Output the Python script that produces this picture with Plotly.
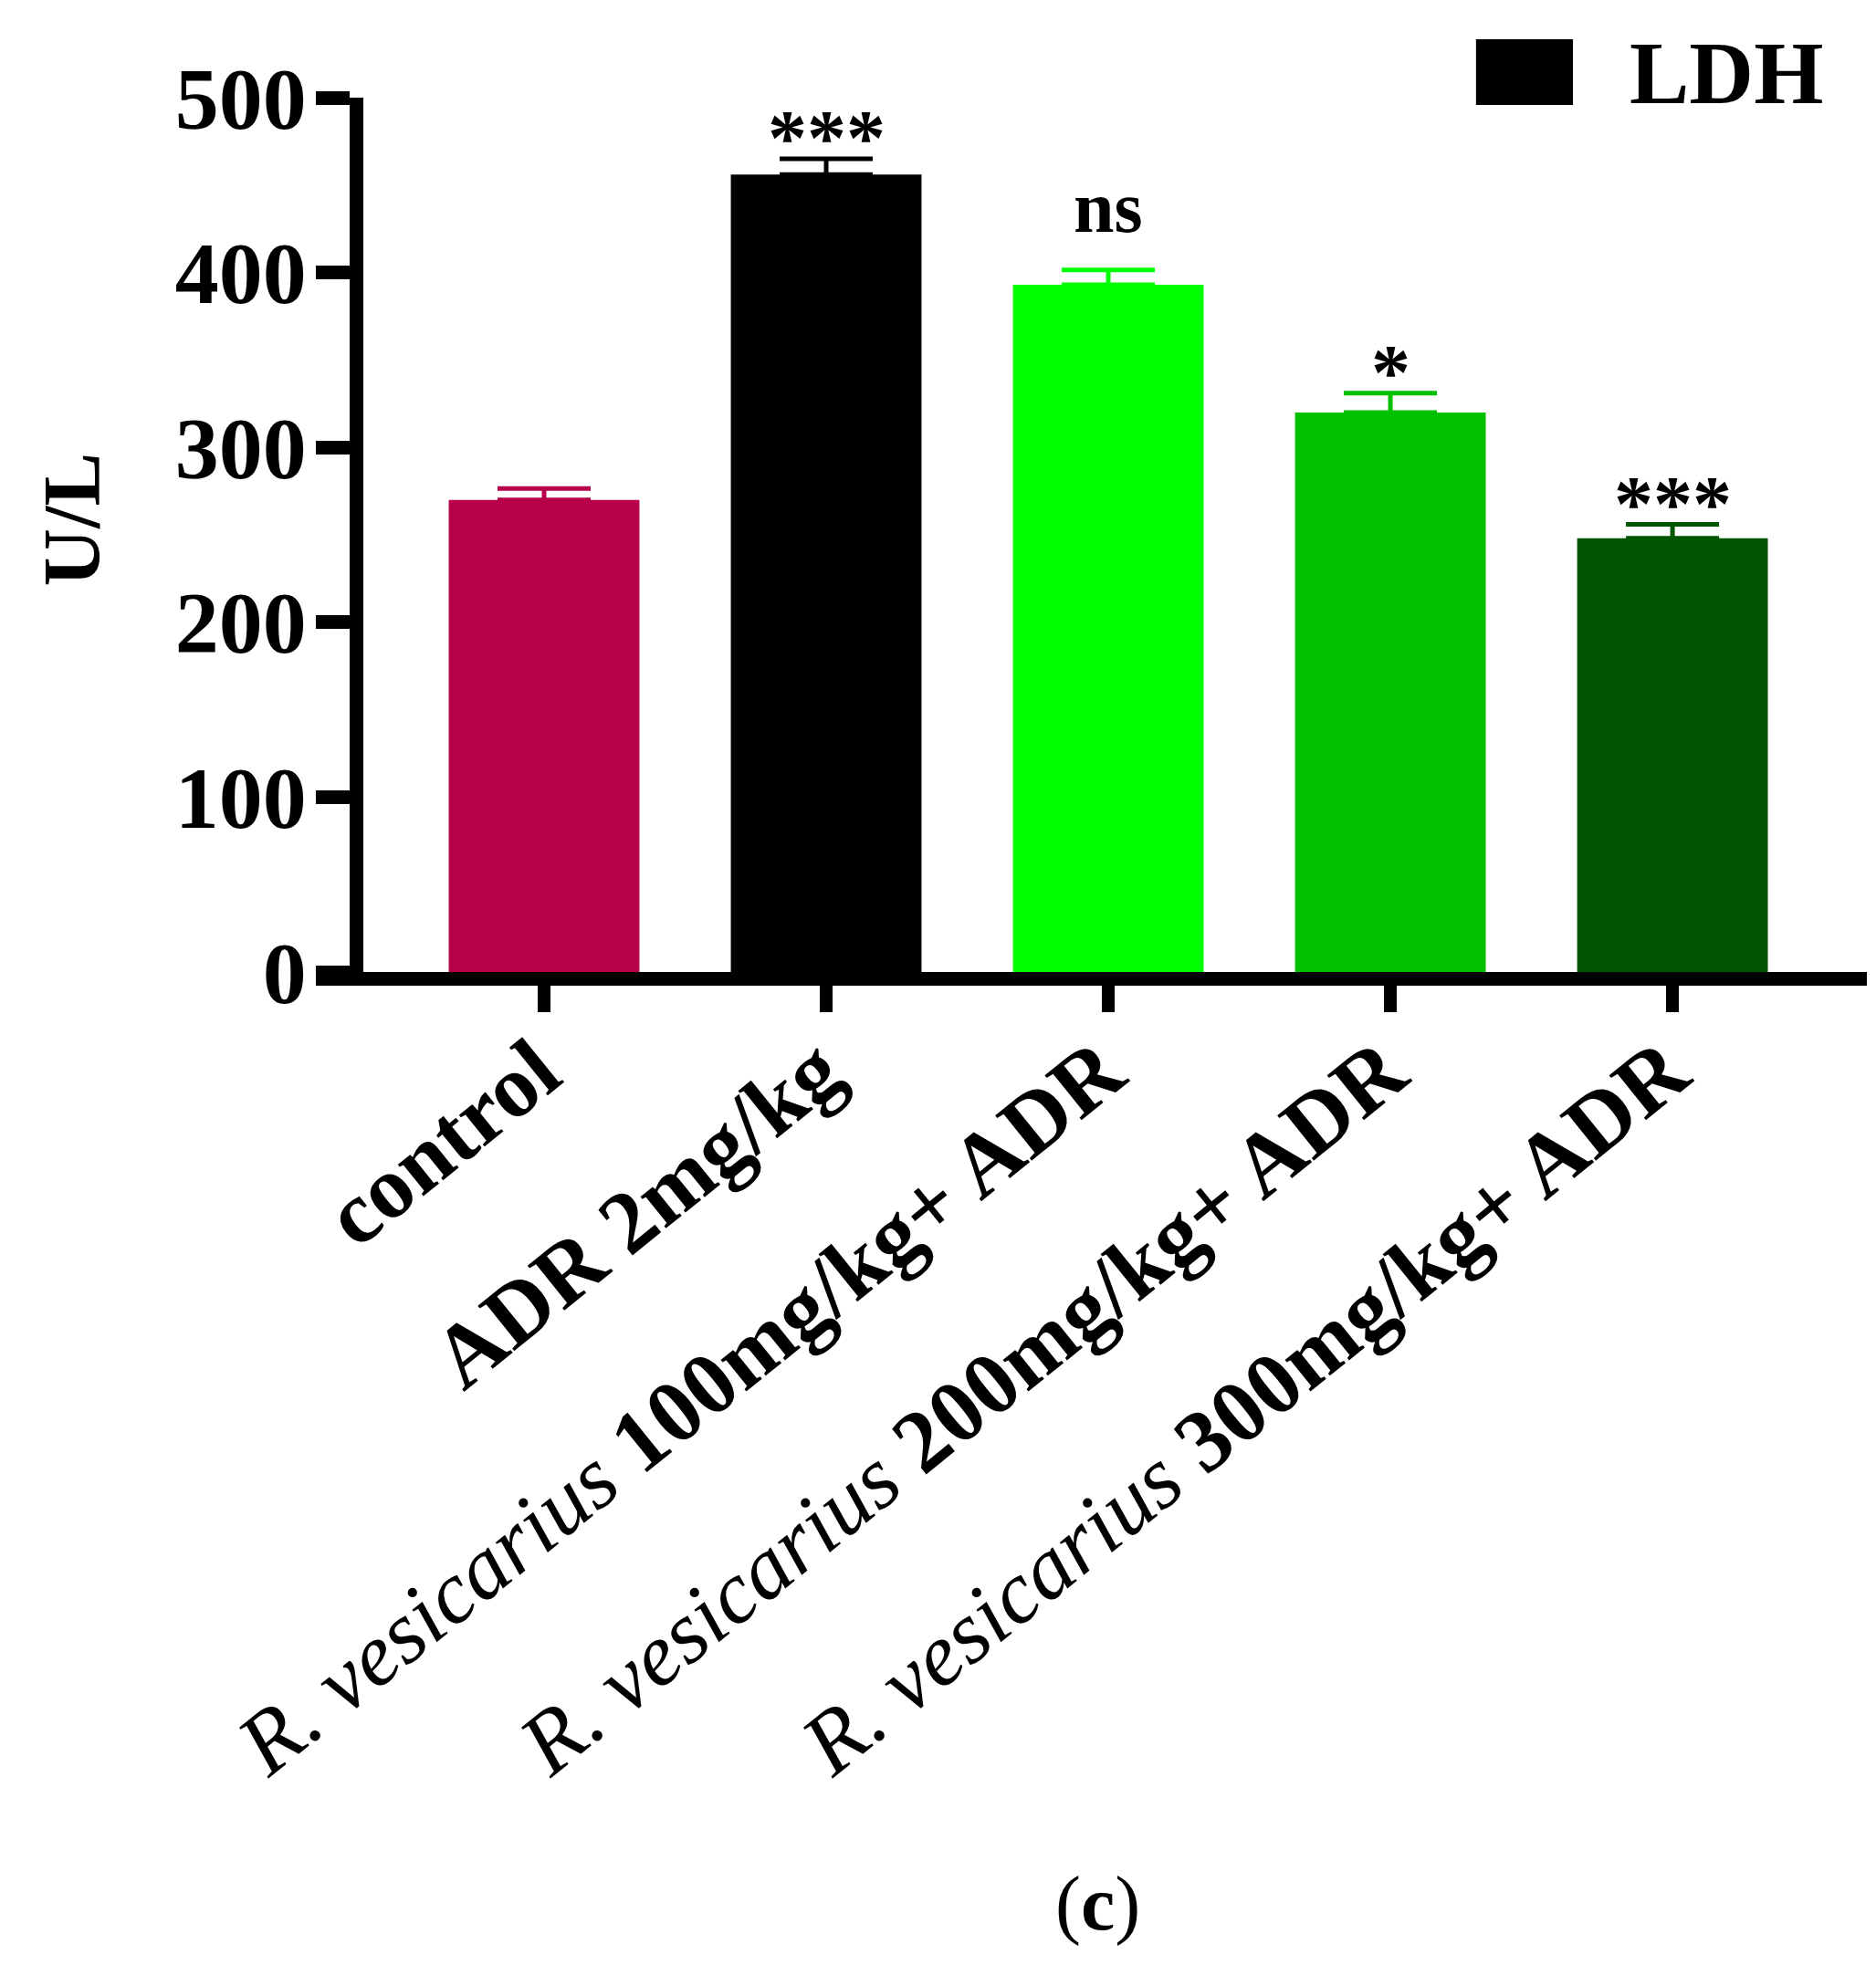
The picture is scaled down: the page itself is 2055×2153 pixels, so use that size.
import plotly.graph_objects as go

categories = ["control", "ADR 2mg/kg", "R. vesicarius 100mg/kg+ ADR",
              "R. vesicarius 200mg/kg+ ADR", "R. vesicarius 300mg/kg+ ADR"]
tick_labels = ["<b>control</b>", "<b>ADR 2mg/kg</b>",
               "<i>R. vesicarius</i> <b>100mg/kg+ ADR</b>",
               "<i>R. vesicarius</i> <b>200mg/kg+ ADR</b>",
               "<i>R. vesicarius</i> <b>300mg/kg+ ADR</b>"]
values = [270, 456, 393, 320, 248]
sem = [6.5, 9, 8.5, 11, 8]
significance = ["", "***", "ns", "*", "***"]
bar_colors = ["#B8004A", "#000000", "#00FF00", "#00C000", "#005600"]
y_ticks = [0, 100, 200, 300, 400, 500]

FONT = "'Times New Roman', 'Liberation Serif', Times, serif"

fig = go.Figure()
for cat, val, se, col in zip(categories, values, sem, bar_colors):
    fig.add_trace(go.Bar(
        x=[cat], y=[val], width=0.676,
        marker=dict(color=col, line=dict(width=0)),
        error_y=dict(type="data", array=[se], arrayminus=[0], symmetric=False,
                     color=col, thickness=5, width=51),
        showlegend=False,
    ))

for cat, val, se, sig in zip(categories, values, sem, significance):
    if not sig:
        continue
    is_star = sig.startswith("*")
    fig.add_annotation(x=cat, y=val + se, text=sig, showarrow=False,
                       yanchor="bottom", yshift=-27 if is_star else 23,
                       font=dict(family=FONT, size=86 if is_star else 80,
                                 color="black", weight="bold"))

# legend (manual, large box)
fig.add_shape(type="rect", xref="paper", yref="paper",
              x0=0.748, x1=0.8105, y0=0.9916, y1=1.0668,
              fillcolor="black", line=dict(width=0))
fig.add_annotation(xref="paper", yref="paper", x=0.8458, y=1.0287,
                   text="LDH", showarrow=False, xanchor="left", yanchor="middle",
                   font=dict(family=FONT, size=98, color="black", weight="bold"))

# y-axis title
fig.add_annotation(xref="paper", yref="paper", x=-0.158, y=0.5177,
                   text="U/L", textangle=-90, showarrow=False,
                   xanchor="center", yanchor="middle",
                   font=dict(family=FONT, size=88, color="black", weight="bold"))

# panel label
fig.add_annotation(xref="paper", yref="paper", x=0.5044, y=-1.0656,
                   text="(<b>c</b>)", showarrow=False,
                   xanchor="center", yanchor="middle",
                   font=dict(family=FONT, size=84, color="black"))

fig.update_layout(
    width=2047, height=2145, autosize=False,
    margin=dict(l=338, r=10, t=99, b=1088),
    plot_bgcolor="white", paper_bgcolor="white",
    barmode="overlay",
    xaxis=dict(type="category", range=[-0.809, 4.689],
               tickvals=categories, ticktext=tick_labels,
               showline=True, linewidth=15, linecolor="black",
               ticks="outside", ticklen=29, tickwidth=14, tickcolor="black",
               tickangle=-39, showgrid=False, zeroline=False,
               ticklabelstandoff=-30, ticklabelshift=-7,
               tickfont=dict(family=FONT, size=97, color="black")),
    yaxis=dict(range=[0, 500], anchor="free", position=0.0259,
               tickvals=y_ticks,
               showline=True, linewidth=15, linecolor="black",
               ticks="outside", ticklen=37, tickwidth=15, tickcolor="black",
               showgrid=False, zeroline=False, ticklabelstandoff=-9,
               tickfont=dict(family=FONT, size=96, color="black", weight="bold")),
)

fig.write_html("out.html")
